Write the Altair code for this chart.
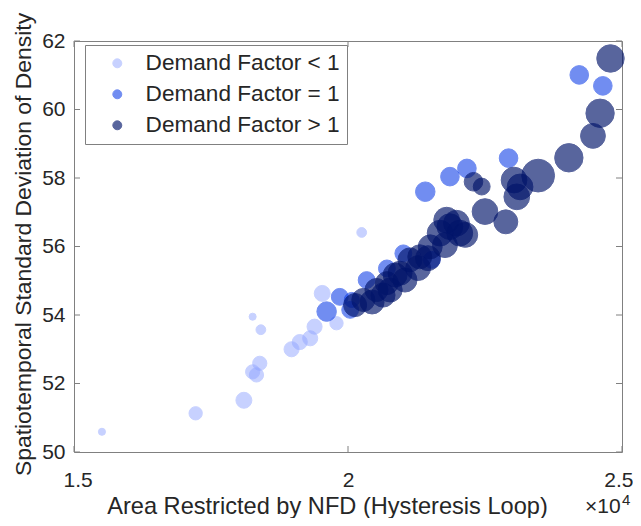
import altair as alt
import pandas as pd

cats = ["Demand Factor < 1", "Demand Factor = 1", "Demand Factor > 1"]

# Demand Factor < 1
low_x = [1.551, 1.722, 1.810, 1.826, 1.841, 1.839, 1.826, 1.833, 1.897, 1.912, 1.931, 1.939, 1.953, 1.979, 2.025]
low_y = [50.59, 51.13, 51.51, 53.95, 53.57, 52.59, 52.34, 52.25, 53.00, 53.21, 53.32, 53.66, 54.63, 53.76, 56.41]
low_s = [50, 177, 254, 50, 95, 201, 201, 201, 227, 227, 227, 227, 254, 177, 95]

# Demand Factor = 1
mid_x = [1.961, 1.985, 2.004, 2.007, 2.034, 2.071, 2.101, 2.153, 2.141, 2.186, 2.217, 2.293, 2.422, 2.465]
mid_y = [54.10, 54.53, 54.15, 54.44, 55.02, 55.36, 55.80, 55.61, 57.60, 58.04, 58.28, 58.58, 61.01, 60.69]
mid_s = [380, 284, 284, 227, 284, 284, 284, 284, 380, 346, 346, 346, 346, 346]

# Demand Factor > 1
high_x = [2.013, 2.028, 2.044, 2.052, 2.064, 2.071, 2.077, 2.086, 2.095, 2.104, 2.113, 2.128,
          2.131, 2.146, 2.150, 2.168, 2.177, 2.180, 2.186, 2.198, 2.204, 2.214,
          2.229, 2.244, 2.250, 2.288, 2.303, 2.308, 2.314, 2.347, 2.403, 2.447, 2.460, 2.479]
high_y = [54.29, 54.44, 54.38, 54.73, 54.58, 54.93, 54.73, 55.17, 55.22, 55.02, 55.61, 55.37,
          55.70, 55.66, 55.99, 56.39, 56.04, 56.77, 56.58, 56.68, 56.39, 56.34,
          57.89, 57.75, 57.02, 56.72, 57.94, 57.45, 57.74, 58.07, 58.59, 59.23, 59.89, 61.49]
high_s = [531, 531, 573, 531, 573, 531, 573, 573, 573, 573, 573, 616,
          573, 616, 573, 661, 616, 661, 661, 661, 661, 616,
          346, 284, 661, 573, 661, 661, 661, 1075, 804, 616, 804, 755]

x_ticks = [1.5, 2, 2.5]
y_ticks = [50, 52, 54, 56, 58, 60, 62]

rows = []
for cat, xs, ys, ss in [(cats[0], low_x, low_y, low_s),
                        (cats[1], mid_x, mid_y, mid_s),
                        (cats[2], high_x, high_y, high_s)]:
    for x, y, s in zip(xs, ys, ss):
        rows.append({"area": x, "sd": y, "s": s, "group": cat})
df = pd.DataFrame(rows)

W, H = 548, 411
FONT = "Liberation Sans"
TXT = "#262626"
BOX = "#808080"
color_range = ["#91a5ff", "#0a3ae8", "#00136a"]
opacity_range = [0.5, 0.65, 0.82]

xscale = alt.Scale(domain=[1.5, 2.5], nice=False, zero=False)
yscale = alt.Scale(domain=[50, 62], nice=False, zero=False)

legend = alt.Legend(
    orient="none", legendX=11, legendY=4, title=None, padding=7,
    strokeColor=BOX, fillColor="white",
    labelFont=FONT, labelFontSize=22.6, labelColor=TXT, labelLimit=400,
    symbolType="circle", symbolSize=80, symbolStrokeWidth=1,
    symbolOffset=14, labelOffset=17, rowPadding=8,
    labelExpr="datum.label + '\u00a0\u00a0\u00a0'",
)

points = alt.Chart(df).mark_circle(strokeWidth=1).encode(
    x=alt.X("area:Q", scale=xscale,
            axis=alt.Axis(values=x_ticks, format="~g",
                          title="Area Restricted by NFD (Hysteresis Loop)",
                          labelPadding=17, labelFlush=True, labelFlushOffset=11,
                          titleX=253, titleY=61, titleBaseline="alphabetic",
                          titleAlign="center")),
    y=alt.Y("sd:Q", scale=yscale,
            axis=alt.Axis(values=y_ticks,
                          title="Spatiotemporal Standard Deviation of Density",
                          labelPadding=9, labelFlush=False,
                          titleX=-44, titleY=203, titleAngle=270, titleFontSize=22.9,
                          titleBaseline="alphabetic", titleAlign="center")),
    color=alt.Color("group:N", scale=alt.Scale(domain=cats, range=color_range), legend=legend),
    stroke=alt.Stroke("group:N", scale=alt.Scale(domain=cats, range=color_range), legend=legend),
    opacity=alt.Opacity("group:N", scale=alt.Scale(domain=cats, range=opacity_range), legend=legend),
    size=alt.Size("s:Q", scale=alt.Scale(type="linear", domain=[0, 1000], range=[0, 1000]), legend=None),
)

xt = pd.DataFrame({"area": x_ticks})
yt = pd.DataFrame({"sd": y_ticks})
TL = 6
tick_b = alt.Chart(xt).mark_rule(color=BOX, strokeWidth=1).encode(
    x=alt.X("area:Q", scale=xscale), y=alt.value(H), y2=alt.value(H - TL))
tick_t = alt.Chart(xt).mark_rule(color=BOX, strokeWidth=1).encode(
    x=alt.X("area:Q", scale=xscale), y=alt.value(0), y2=alt.value(TL))
tick_l = alt.Chart(yt).mark_rule(color=BOX, strokeWidth=1).encode(
    y=alt.Y("sd:Q", scale=yscale), x=alt.value(0), x2=alt.value(TL))
tick_r = alt.Chart(yt).mark_rule(color=BOX, strokeWidth=1).encode(
    y=alt.Y("sd:Q", scale=yscale), x=alt.value(W), x2=alt.value(W - TL))

exp_base = alt.Chart(pd.DataFrame({"t": ["\u00d710"]})).mark_text(
    font=FONT, fontSize=21, color=TXT, align="left", baseline="alphabetic"
).encode(text="t:N", x=alt.value(511), y=alt.value(472))
exp_sup = alt.Chart(pd.DataFrame({"t": ["4"]})).mark_text(
    font=FONT, fontSize=15, color=TXT, align="left", baseline="alphabetic"
).encode(text="t:N", x=alt.value(548), y=alt.value(464))

chart = alt.layer(points, tick_b, tick_t, tick_l, tick_r, exp_base, exp_sup).properties(
    width=W, height=H,
    autosize=alt.AutoSizeParams(type="none"),
    padding={"left": 66, "top": 33, "right": 11, "bottom": 66},
    background="white",
).configure_view(
    stroke=BOX, strokeWidth=1
).configure_axis(
    grid=False, domain=False, ticks=False, tickSize=0,
    labelFont=FONT, labelFontSize=21, labelColor=TXT,
    titleFont=FONT, titleFontSize=23.6, titleColor=TXT, titleFontWeight="normal",
)

chart.save("out.html", embed_options={"renderer": "svg", "actions": False})
